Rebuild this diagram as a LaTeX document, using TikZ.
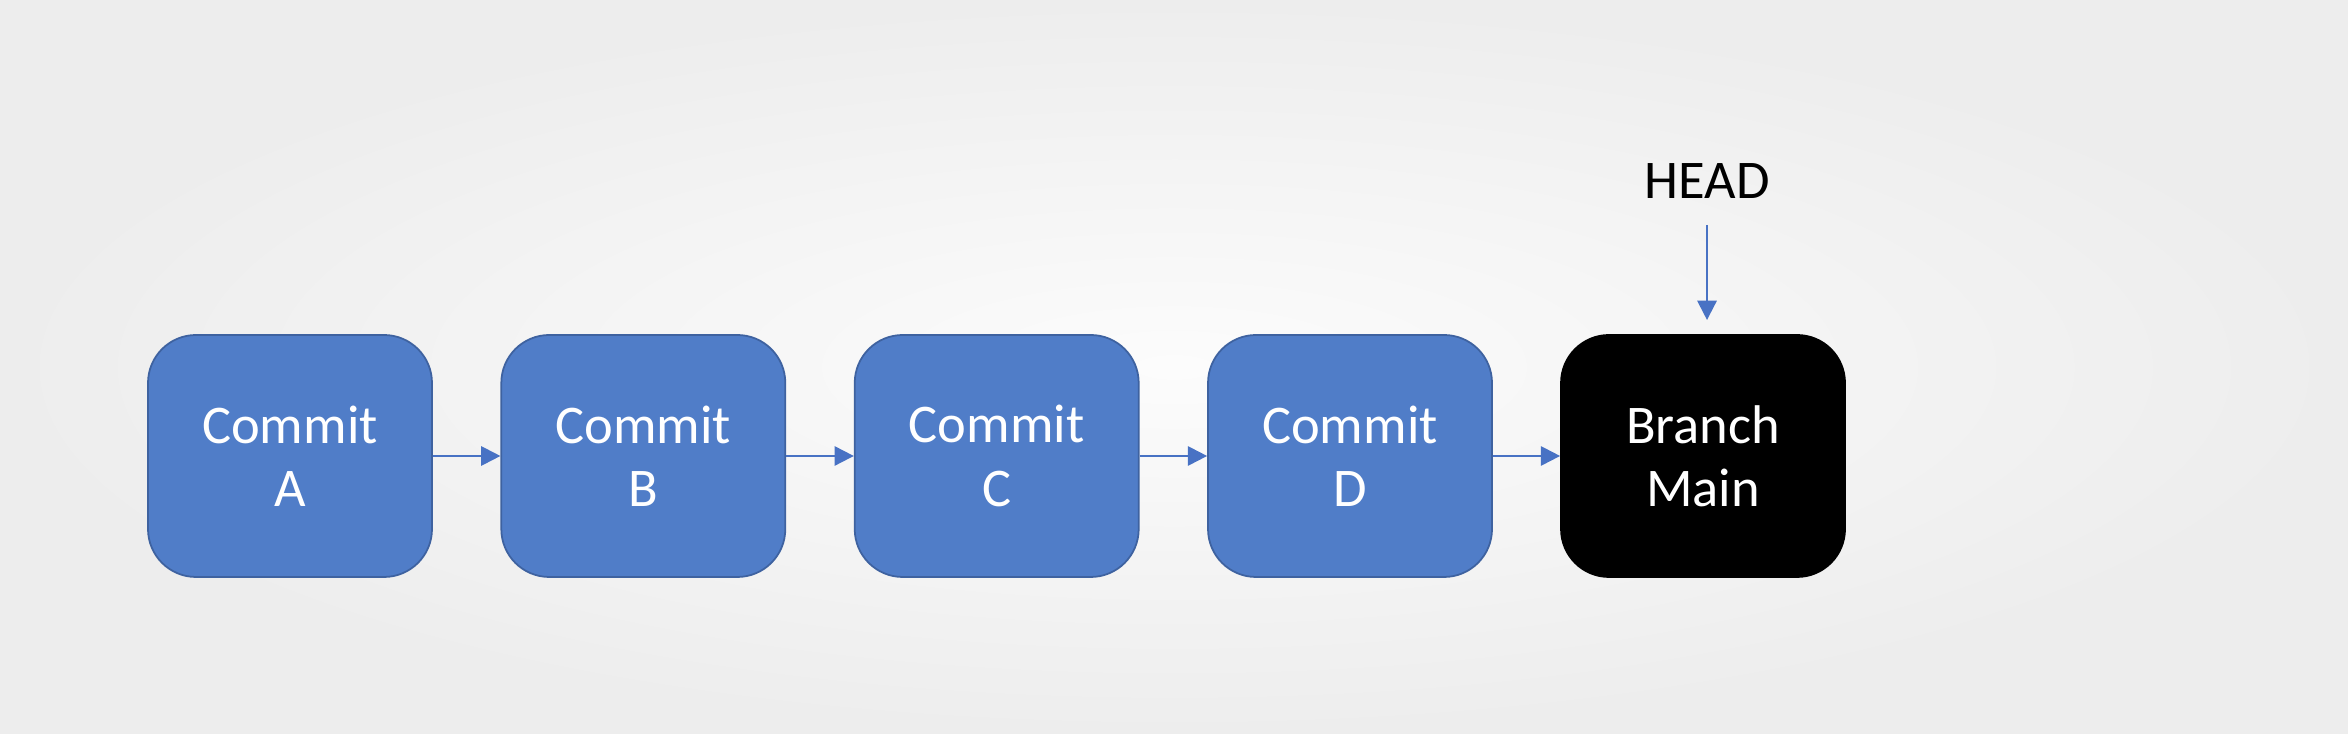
\documentclass[tikz,border=0pt]{standalone}
\usepackage{fontspec}
\setmainfont{Carlito}
\usetikzlibrary{arrows.meta}
\definecolor{boxblue}{RGB}{80,125,200}
\definecolor{boxedge}{RGB}{62,98,160}
\definecolor{arrowblue}{RGB}{72,114,196}
\definecolor{bgin}{RGB}{252,252,252}
\definecolor{bgout}{RGB}{237,237,237}
\tikzset{
  commitbox/.style={draw=boxedge, line width=0.5pt, fill=boxblue, rounded corners=0.48cm,
    minimum width=2.84cm, minimum height=2.42cm, text=white, align=center,
    font=\fontsize{15.5}{18}\selectfont, inner sep=0pt},
  branchbox/.style={commitbox, draw=black, fill=black},
  link/.style={draw=arrowblue, line width=0.6pt, -{Triangle[length=5.5pt,width=5.5pt]}},
  headlabel/.style={font=\fontsize{15.5}{18}\selectfont, text=black, inner sep=0pt}
}
\begin{document}
\begin{tikzpicture}
\shade[inner color=bgin, outer color=bgout] (0,0) rectangle (23.48,7.34);
\useasboundingbox (0,0) rectangle (23.48,7.34);
\node[commitbox] (A) at (2.90,2.78) {Commit\\A};
\node[commitbox] (B) at (6.433,2.78) {Commit\\B};
\node[commitbox] (C) at (9.967,2.78) {Commit\\C};
\node[commitbox] (D) at (13.50,2.78) {Commit\\D};
\node[branchbox] (M) at (17.03,2.78) {Branch\\Main};
\node[headlabel] (H) at (17.07,5.53) {HEAD};
\coordinate (hs) at (17.07,5.09);
\coordinate (he) at (17.07,4.14);
\draw[link] (A) -- (B);
\draw[link] (B) -- (C);
\draw[link] (C) -- (D);
\draw[link] (D) -- (M);
\draw[link] (hs) -- (he);
\end{tikzpicture}
\end{document}
